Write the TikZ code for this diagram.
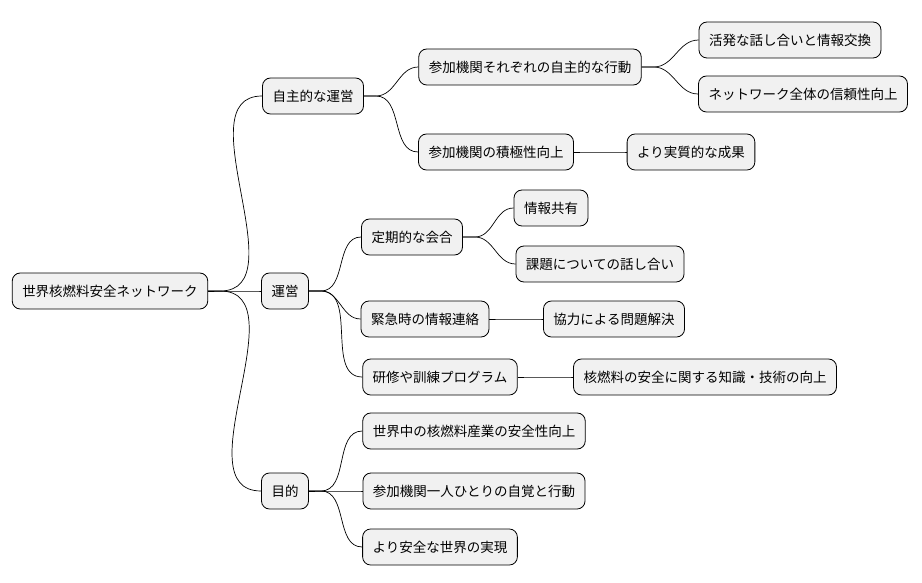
\documentclass[tikz,border=0pt]{standalone}
\usepackage{fontspec}
\newfontfamily\cjk{Noto Sans CJK JP}
\begin{document}
\begin{tikzpicture}[x=1pt,y=-1pt,
  n/.style={draw=black,fill={rgb,255:red,241;green,241;blue,241},rounded corners=8pt,
    minimum height=36pt,inner xsep=10pt,font=\cjk\fontsize{13.5}{16}\selectfont,line width=0.8pt},
  e/.style={line width=0.7pt}]
\useasboundingbox (0,0) rectangle (922,583);
\node[n] (r) at (110,291) {世界核燃料安全ネットワーク};
\node[n] (a) at (313,96) {自主的な運営};
\node[n] (b) at (285,291) {運営};
\node[n] (c) at (285,491) {目的};
\node[n] (a1) at (530,67) {参加機関それぞれの自主的な行動};
\node[n] (a2) at (496,152) {参加機関の積極性向上};
\node[n] (a11) at (790,40) {活発な話し合いと情報交換};
\node[n] (a12) at (803,94) {ネットワーク全体の信頼性向上};
\node[n] (a21) at (691,152) {より実質的な成果};
\node[n] (b1) at (412,237) {定期的な会合};
\node[n] (b2) at (425,319) {緊急時の情報連絡};
\node[n] (b3) at (440,377) {研修や訓練プログラム};
\node[n] (b11) at (551,208) {情報共有};
\node[n] (b12) at (600,264) {課題についての話し合い};
\node[n] (b21) at (614,319) {協力による問題解決};
\node[n] (b31) at (705,377) {核燃料の安全に関する知識・技術の向上};
\node[n] (c1) at (474,431) {世界中の核燃料産業の安全性向上};
\node[n] (c2) at (474,491) {参加機関一人ひとりの自覚と行動};
\node[n] (c3) at (440,547) {より安全な世界の実現};
\foreach \p/\c in {r/a,r/b,r/c,a/a1,a/a2,a1/a11,a1/a12,a2/a21,b/b1,b/b2,b/b3,b1/b11,b1/b12,b2/b21,b3/b31,c/c1,c/c2,c/c3}{
  \draw[e] (\p.east) -- ++(12,0) to[out=0,in=180] (\c.west);
}
\end{tikzpicture}
\end{document}
